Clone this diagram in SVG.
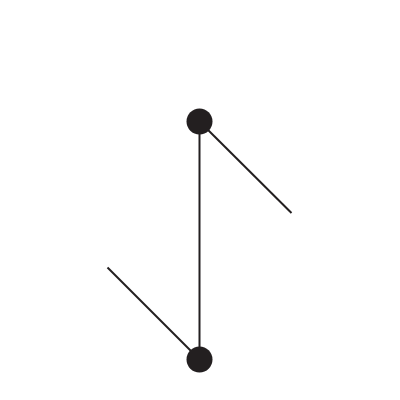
<svg xmlns="http://www.w3.org/2000/svg" width="400" height="400" viewBox="0 0 400 400">
<style>
.edge{stroke:#231f20;stroke-width:2;fill:none}
.dot{fill:#231f20}
</style>
<rect width="400" height="400" fill="#ffffff"/>
<g id="connectors">
<line class="edge" x1="199.5" y1="121.5" x2="199.5" y2="359.5"/>
<line class="edge" x1="199.5" y1="121.5" x2="291.5" y2="213"/>
<line class="edge" x1="199.5" y1="359.5" x2="107.5" y2="267.5"/>
</g>
<g id="node1"><circle class="dot" cx="199.5" cy="121.5" r="13"/></g>
<g id="node2"><circle class="dot" cx="199.5" cy="359.5" r="13"/></g>
</svg>
